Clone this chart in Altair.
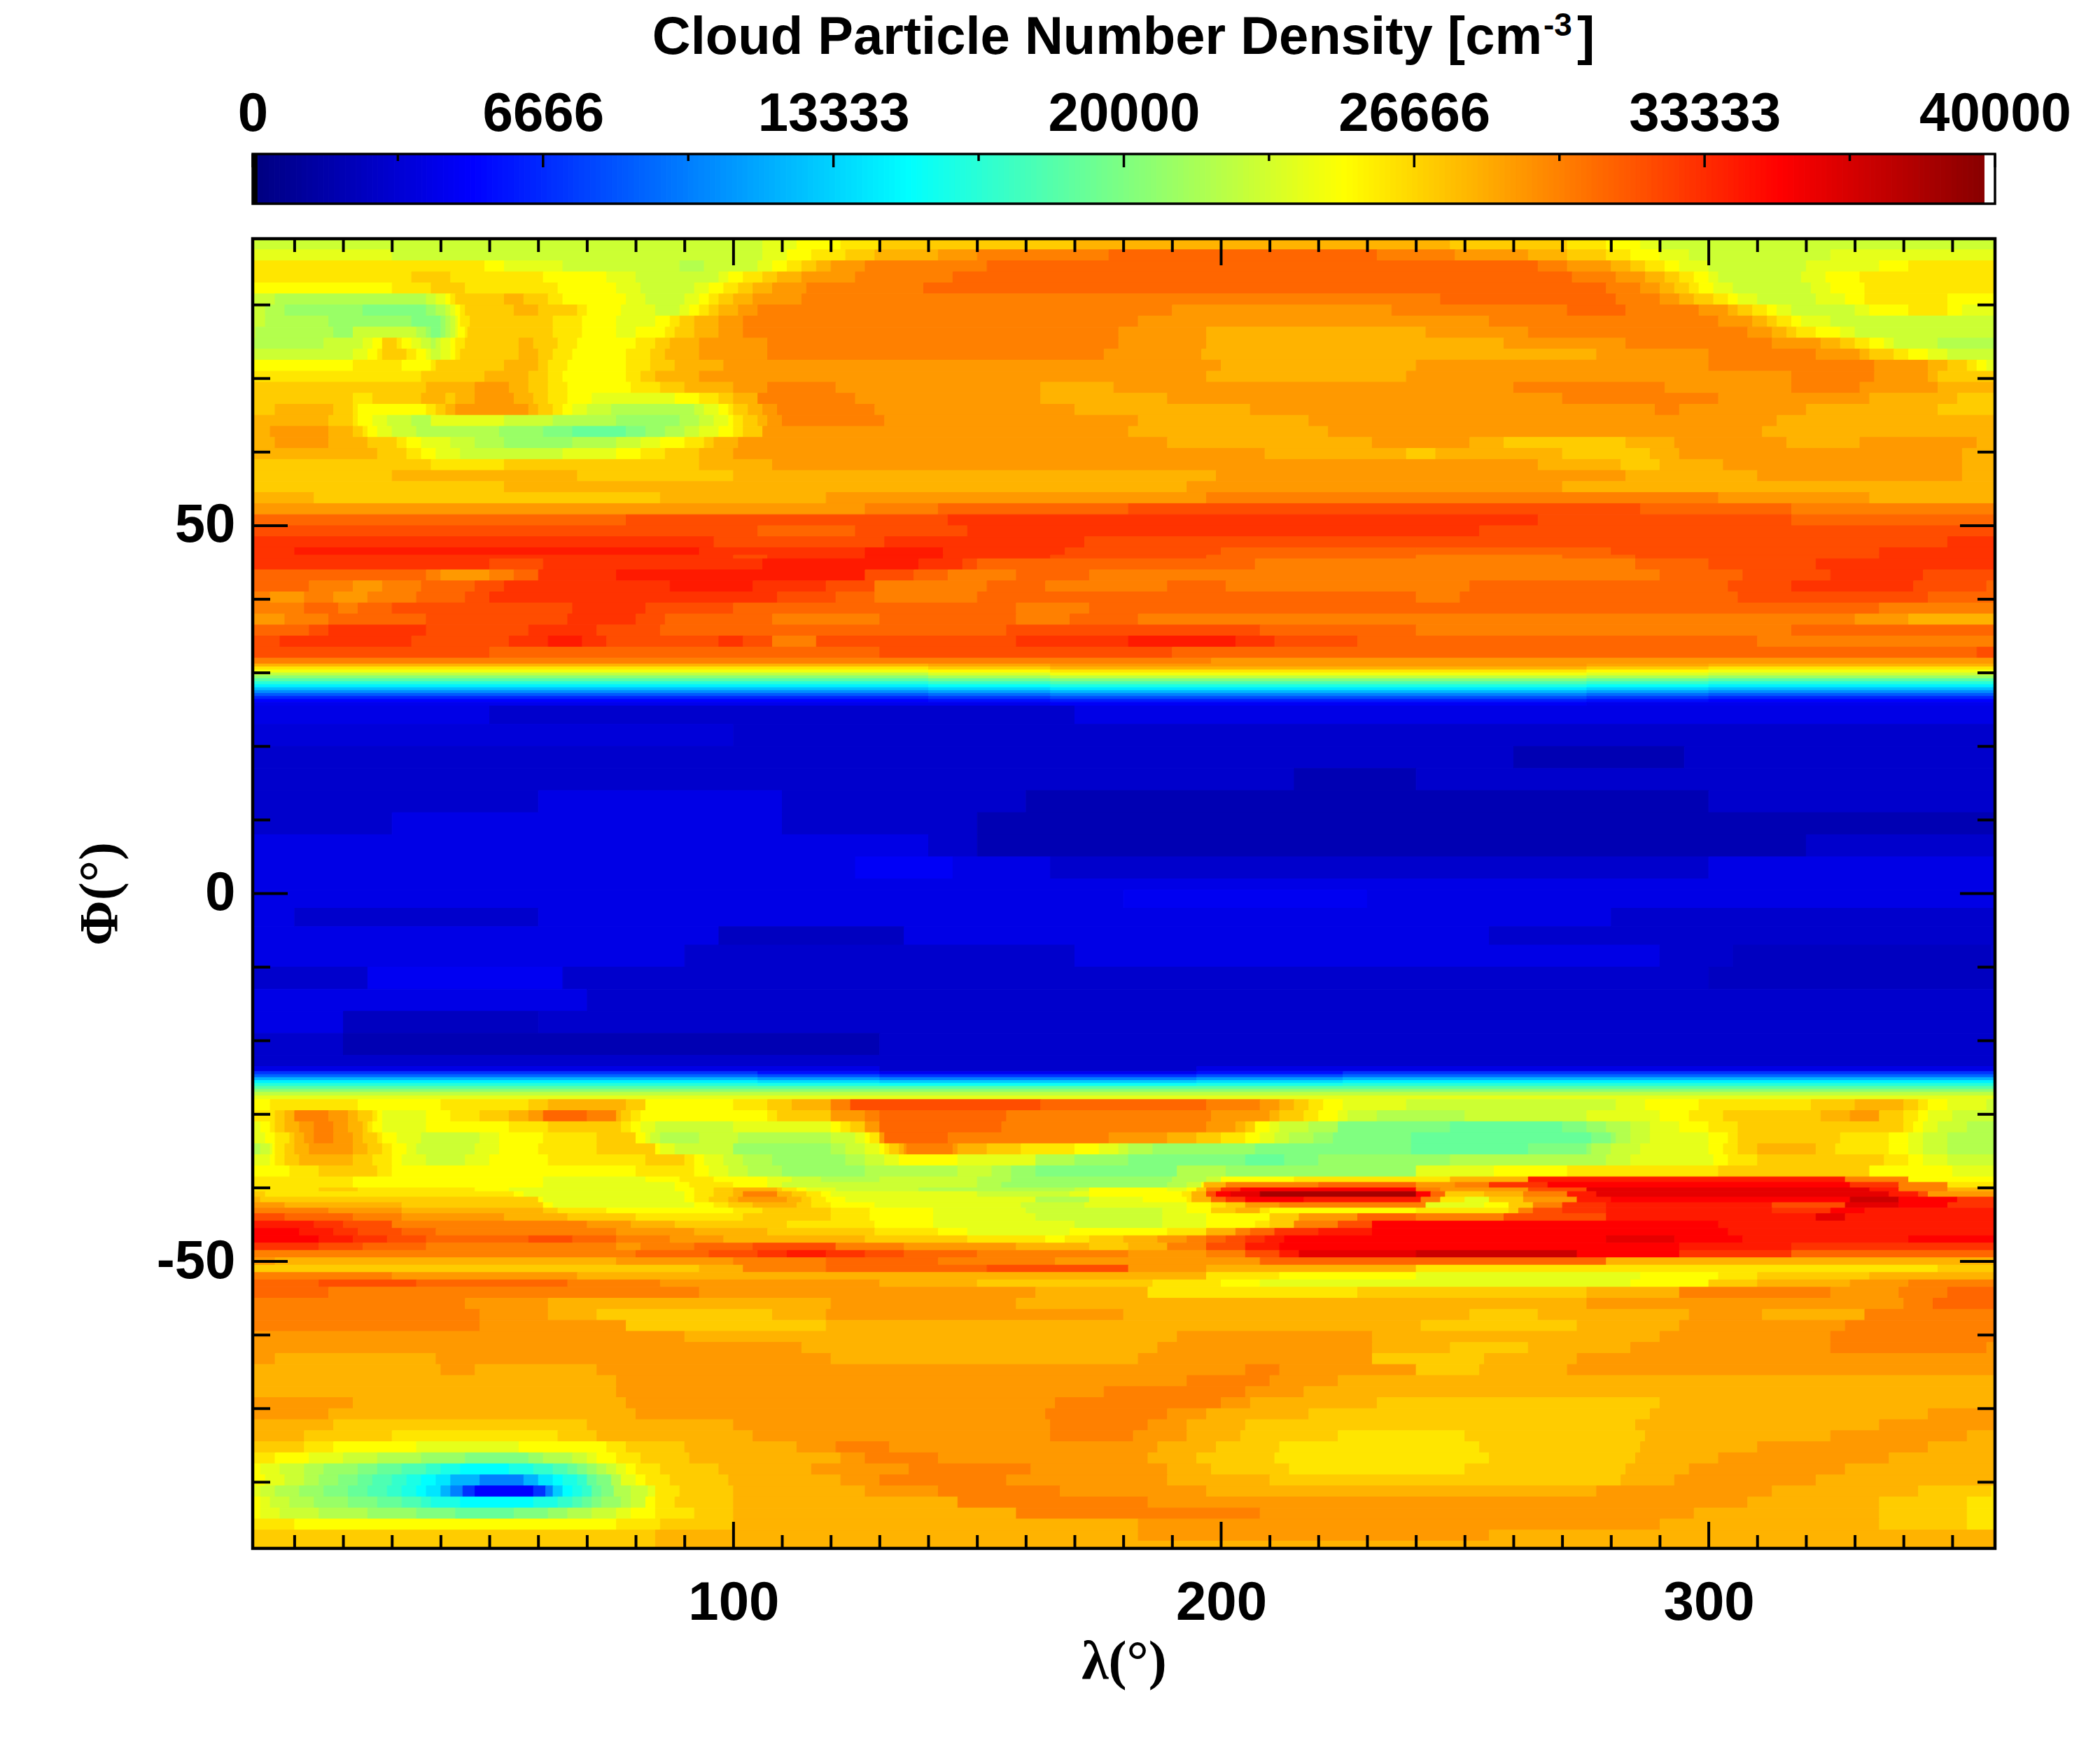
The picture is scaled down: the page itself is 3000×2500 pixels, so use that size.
import altair as alt
import pandas as pd

# Each row: latitude top, latitude bottom, then [value(k cm-3), longitude end, value, longitude end, ...]
north_rows = [
(89,87.5,[23,106,24,113,25,122,26,130,27,170,28,247,27,271,26,279,25,286,24,290,23,360]),
(87.5,86,[24,30,23,106,24,111,25,116,26,123,27,129,28,142,29,150,30,177,31,232,30,248,29,263,28,271,27,279,26,284,25,290,24,296,23,325,24,360]),
(86,84.5,[26,49,25,53,24,65,23,89,22,94,23,105,24,108,25,111,26,114,27,117,28,120,29,127,30,152,31,265,30,271,29,280,28,284,27,287,26,291,25,294,24,300,23,320,24,335,25,341,26,360]),
(84.5,83,[26,34,27,42,26,61,25,74,24,80,23,97,24,99,25,102,26,106,27,109,28,114,29,125,30,145,31,272,30,281,29,287,28,291,27,294,26,297,25,300,24,302,23,319,24,324,25,331,26,360]),
(83,81.5,[25,30,26,38,27,45,26,64,25,76,24,81,23,92,24,95,25,98,26,101,27,104,28,108,29,115,30,139,31,279,30,286,29,290,28,293,27,296,26,298,25,301,24,305,23,321,24,325,25,332,26,360]),
(81.5,80,[23,6,22,37,23,39,24,41,25,42,26,43,27,53,28,57,27,62,26,65,25,78,24,82,23,90,24,93,25,95,26,97,27,100,28,104,29,114,30,245,31,281,30,290,29,294,28,297,27,301,26,304,25,306,24,310,23,322,24,328,25,332,26,349,25,360]),
(80,78.5,[23,4,22,8,21,24,20,37,21,39,22,41,23,42,24,43,25,44,26,45,27,55,28,60,27,68,26,70,25,77,24,84,23,89,24,91,25,93,26,95,27,97,28,101,29,105,30,190,29,235,30,271,31,283,30,298,29,304,28,306,27,309,26,312,25,314,24,317,23,330,24,333,25,341,26,349,25,352,24,360]),
(78.5,77,[23,4,22,17,21,34,20,40,21,41,22,42,23,43,24,43.5,25,44,26,46,27,63,26,69,25,76,24,84,25,87,26,89,27,92,28,97,29,102,30,183,29,255,30,302,29,309,28,312,27,314,26,317,25,319,24,325,23,360]),
(77,75.5,[23,2,22,18,21,22,23,35,22,37,21,38,20,40,21,41,22,42,23,43,24,43.5,25,45,26,45.5,27,63,26,69,25,76,24,80,25,86,26,88,27,92,28,97,29,102,30,179,29,197,28,242,29,263,30,308,29,313,28,316,27,318,26,322,25,327,24,330,23,360]),
(75.5,74,[22,16,23,24,24,26,25,28,27,31,26,32,25,34,24,36,23,38,22,39,23,40,24,42,25,43,26,45,27,56,28,59,27,64,26,68,25,80,26,84,27,87,28,93,29,107,30,179,29,197,28,258,29,283,30,313,29,323,28,327,27,330,26,333,25,336,24,338,23,347,22,360]),
(74,72.5,[23,22,24,25,25,27,26,28,27,33,26,35,25,37,24,38,23,40,24,42,25,43,26,44,27,56,28,60,27,63,26,67,25,78,26,83,27,86,28,93,29,107,30,176,29,196,28,277,29,300,30,322,29,331,28,333,27,338,26,341,25,345,24,349,23,360]),
(72.5,71,[25,22,26,32,25,38,26,39,27,53,28,60,27,62,26,66,25,78,26,83,27,88,28,98,29,200,28,240,29,300,30,334,29,345,28,349,27,353,26,355,25,357,24,360]),
(71,69.5,[26,36,27,49,28,58,27,62,26,65,25,78,26,81,27,84,28,93,29,197,28,238,29,317,30,334,29,345,28,347,27,360]),
(69.5,68,[27,37,28,47,29,54,28,58,27,62,26,66,25,79,26,85,27,90,28,100,29,107,30,121,29,163,28,178,29,260,30,291,29,317,30,331,29,347,28,360]),
(68,66.5,[27,22,26,26,27,36,28,41,27,43,28,47,29,55,28,59,27,62,26,66,25,71,24,88,25,93,26,97,27,100,28,105,30,125,29,163,28,189,29,270,30,302,29,333,28,351,27,360]),
(66.5,65,[27,6,28,18,27,22,26,23,25,37,26,39,27,41,28,43,29,58,28,60,27,63,26,65,25,67,24,70,23,75,22,92,23,94,24,97,25,99,26,100,27,103,28,106,29,109,30,129,29,170,28,206,29,289,30,294,29,320,28,347,27,360]),
(65,63.5,[28,17,27,22,26,23,25,26,24,29,23,34,22,38,24,53,23,63,22,76,21,89,22,93,23,96,24,99,25,100,26,102,27,105,28,107,29,110,30,131,29,183,28,218,29,314,28,360]),
(63.5,62,[28,5,29,17,28,22,27,24,26,25,25,27,24,30,23,35,22,52,21,61,20,67,19,78,20,82,21,86,22,90,23,93,24,97,25,100,26,102,27,106,29,181,28,222,29,311,28,360]),
(62,60.5,[28,6,29,17,28,25,27,31,26,33,25,36,24,42,23,47,22,53,21,67,22,76,23,81,24,85,25,90,26,94,27,96,28,101,29,189,28,231,29,251,28,258,27,283,28,293,29,316,28,331,29,355,28,360]),
(60.5,59,[28,27,27,33,26,36,25,39,24,44,23,65,24,76,25,81,26,86,27,93,28,100,29,209,28,238,27,244,28,270,27,288,28,294,29,352,28,360]),
(59,57.5,[27,38,26,53,27,93,28,108,29,265,28,282,27,290,28,303,29,352,28,360]),
(57.5,56,[27,30,28,68,27,100,28,199,29,283,28,310,29,352,28,360]),
(56,54.5,[27,53,28,193,29,270,28,360]),
(54.5,53,[28,14,27,85,28,119,29,197,30,302,29,333,28,360]),
(53,51.5,[29,127,30,142,31,181,32,286,31,317,30,360]),
(51.5,50,[31,78,32,144,33,265,32,317,31,360]),
(50,48.5,[32,105,31,125,32,148,33,253,32,360]),
(48.5,47,[33,96,32,131,33,172,32,349,33,360]),
(47,46,[33,10,34,93,33,127,34,143,33,168,32,200,31,240,31,280,32,335,33,360]),
(46,45.5,[33,100,32,107,33,127,34,143,33,165,32,197,31,240,30,270,31,285,32,335,33,360]),
(45.5,44,[33,50,32,61,33,106,34,138,33,147,32,150,31,207,30,285,31,300,32,322,33,360]),
(44,42.5,[31,37,30,40,29,50,30,55,31,60,33,76,34,127,32,137,31,144,30,158,31,173,30,290,31,307,32,325,33,344,32,360]),
(42.5,41,[31,13,30,22,29,28,30,36,31,47,32,53,33,87,34,104,33,119,32,129,30,152,31,164,30,189,31,201,30,251,31,304,32,317,33,342,32,357,31,360]),
(41,39.5,[30,5,29,12,30,18,29,25,30,35,31,45,32,50,33,109,32,121,31,129,30,150,31,240,30,249,31,306,32,345,31,360]),
(39.5,38,[30,12,31,19,30,23,31,30,32,67,33,82,32,100,31,158,30,173,31,335,30,360]),
(38,36.5,[29,8,30,17,31,37,32,66,33,80,32,86,31,108,30,130,31,158,30,169,31,183,30,330,29,341,28,360]),
(36.5,35,[31,13,32,17,33,37,32,58,33,72,32,85,31,156,32,208,31,240,30,317,31,360]),
(35,33.5,[32,7,33,34,32,54,33,62,34,69,33,74,32,97,33,102,32,108,30,117,32,158,33,181,34,203,33,211,32,228,31,310,30,360]),
(33.5,32,[32,50,31,130,32,190,31,355,32,360]),
(32,31.2,[30,198,29,360]),
(31.2,30.8,[28,140,28.5,165,29,275,28.5,300,28,360]),
(30.8,30.4,[26,140,27,165,28,275,27,300,26,360]),
(30.4,30,[24.5,140,25.2,165,26,275,25.2,300,24.5,360]),
(30,29.6,[22.5,140,23.5,165,24.5,275,23.7,300,23,360]),
(29.6,29.2,[20.5,140,21.5,165,22.5,275,21.7,300,21,360]),
(29.2,28.8,[18.5,140,19.2,165,20,275,19.2,300,18.5,360]),
(28.8,28.4,[16.5,140,17.2,165,18,275,17.2,300,16.5,360]),
(28.4,28,[14.5,140,15.2,165,16,275,15.2,300,14.5,360]),
(28,27.6,[12.5,140,13.2,165,14,275,13.2,300,12.5,360]),
(27.6,27.2,[10.5,140,11.2,165,12,275,11.2,300,10.5,360]),
(27.2,26.8,[8.5,140,9.2,165,10,275,9.2,300,8.5,360]),
(26.8,26.4,[6.5,140,7.2,165,8,275,7.2,300,6.5,360]),
(26.4,26,[5,140,5.5,165,6,275,5.5,300,5,360]),
(26,25.5,[4.3,165,4.7,275,4.3,360]),
]

equator_rows = [
(25.5,23,[4,50,3,170,4,360]),
(23,20,[3.5,100,3,360]),
(20,17,[3,260,2,295,3,360]),
(17,14,[3,215,2,240,3,360]),
(14,11,[3,60,4,110,3,160,2,300,3,360]),
(11,8,[3,30,4,110,3,150,2,360]),
(8,5,[4,140,3,150,2,320,3,360]),
(5,2,[4,125,4.7,145,4,165,3,300,4,360]),
(2,0.5,[4,360]),
(0.5,-2,[4,180,4.5,230,4,360]),
(-2,-4.5,[4,10,3,60,4,280,3,360]),
(-4.5,-7,[4,97,2.5,135,4,255,3,360]),
(-7,-10,[4,90,3,170,4,290,3,305,2.5,358,3,360]),
(-10,-13,[3,25,4.5,65,3,300,2.5,360]),
(-13,-16,[4,70,3,360]),
(-16,-19,[4,20,2.5,60,3,360]),
(-19,-22,[3,20,2,130,3,360]),
(-22,-23.5,[3,360]),
(-23.5,-24.2,[4,130,3,195,4,360]),
]

south_rows = [
(-24.2,-24.6,[7,105,5.5,130,4.5,195,5.5,225,7,360]),
(-24.6,-25,[9,105,8,130,7,195,8,225,9,360]),
(-25,-25.4,[12,105,11,130,10,195,11,225,12,360]),
(-25.4,-25.8,[14.5,105,13.7,130,13,195,13.7,225,14.5,360]),
(-25.8,-26.2,[16.5,105,16,130,15.5,195,16,225,16.5,360]),
(-26.2,-26.6,[18.5,360]),
(-26.6,-27,[20.5,360]),
(-27,-27.5,[22.5,360]),
(-27.5,-28,[24,360]),
(-28,-29.5,[25,5,26,23,25,40,26,58,27,62,28,78,27,82,25,100,26,107,27,112,28,120,30,124,32,163,31,197,30,208,29,212,28,215,27,218,26,221,25,225,24,238,23,281,24,287,25,298,26,321,27,330,28,340,27,343,26,345,25,349,24,357,23,360]),
(-29.5,-31,[26,6,27,8,28,10,30,17,29,21,28,23,27,26,26,27,25,28,24,37,25,42,26,48,27,54,28,58,29,61,31,70,30,76,28,77,27,79,26,81,25,107,26,109,27,120,29,127,30,130,31,156,30,198,29,210,28,212,27,217,26,220,25,224,24,226,23,232,22,250,23,275,24,290,25,296,26,303,27,323,28,329,29,335,27,340,26,343,25,345,24,350,23,360]),
(-31,-32.5,[24,3,25,5,26,6,27,8,28,11,29,14,30,18,29,21,28,24,27,25,26,26,25,28,24,37,25,54,26,62,27,77,26,79,25,81,24,84,23,100,24,120,25,122,26,124,27,127,29,130,31,155,30,197,29,203,28,205,27,207,25,210,24,212,23,218,22,224,20,247,19,270,20,275,21,279,22,284,23,288,24,294,25,300,26,306,27,340,26,342,25,344,24,347,23,353,22,360]),
(-32.5,-34,[24,4,25,6,26,9,27,10,28,12,29,14,30,18,29,22,28,24,27,27,26,28,25,31,24,36,23,48,24,52,25,61,26,72,27,80,25,82,24,83,23,85,22,93,23,101,22,120,23,125,24,127,25,128,26,130,29,131,31,144,30,177,29,189,28,195,27,200,26,205,25,208,24,211,23,214,22,219,21,223,20,239,19,276,20,280,21,281,22,284,23,288,24,300,25,304,26,306,27,327,26,337,25,341,24,344,23,349,22,360]),
(-34,-35.5,[22,3,23,5,24,5.5,25,6,26,8,27,10,28,13,29,22,28,25,27,28,26,30,25,33,24,35,23,47,24,52,25,60,26,72,27,84,25,85,24,88,23,100,21,120,22,123,23,127,24,130,25,131,26,132,27,134,28,135,29,135.5,30,145,29,146,28,152,27,159,26,170,25,175,24,179,23,181,22,186,21,207,20,239,19,263,20,275,21,276,22,280,23,286,24,300,25,303,26,306,27,310,28,322,27,326,26,337,25,341,24,344,23,349,22,360]),
(-35.5,-37,[24,5,25,6,26,8,27,11,28,22,27,26,26,30,25,32,24,37,23,45,24,50,25,62,26,82,27,90,26,92,25,94,24,98,23,102,22,108,21,123,22,127,23,131,24,134,25,146,24,162,22,170,21,181,20,205,19,213,20,220,21,247,22,279,23,284,24,301,25,304,26,310,27,336,26,341,25,344,24,349,23,360]),
(-37,-38.5,[25,9,26,15,27,27,26,30,25,80,26,92,25,95,24,99,23,103,22,110,21,127,22,146,23,153,22,157,21,162,20,191,22,201,21,240,24,256,25,271,26,302,27,333,25,350,24,360]),
(-38.5,-39.25,[26,22,25,61,24,82,25,89,26,96,25,107,24,112,23,118,22,130,23,150,22,157,21,190,22,197,23,200,25,215,26,247,28,263,34,328,30,341,25,360]),
(-39.25,-40,[26,22,25,61,24,88,25,91,26,100,25,107,24,110,23,150,22,155,21,189,22,193,23,196,25,196.5,28,201,30,220,31,240,29,248,30,255,33,267,35,329,33,339,30,349,26,360]),
(-40,-40.5,[26,15,27,23,26,47,25,54,24,88,25,92,26,96,27,100,28,109,27,110,26,113,25,115,24,121,23,138,22,170,23,173,25,189,24,193,25,195,27,197,30,200,33,204,35,240,30,245,29,263,32,275,36,333,34,339,30,349,28,360]),
(-40.5,-41.25,[27,4,26,55,25,57,24,90,25,92,26,96,27,100,28,102,30,109,28,112,27,115,26,118,25,120,24,150,23,169,24,173,25,192,26,194,28,197,32,199,35,202,36,208,38.5,240,35,243,31,246,27,254,28,262,30,271,34,277,36,337,34,343,32,345,29,360]),
(-41.25,-42,[28,3,27,60,25,61,24,90,25,92,26,95,27,99,28,101,29,111,28,114,27,116,26,119,25,123,24,162,22,173,24,184,25,193,26,194,28,198,31,201,33,205,35,217,34,241,30,245,26,250,24,255,27,262,29,273,34,280,35,329,37,339,35,351,33,360]),
(-42,-42.75,[29,8,28,32,27,61,25,63,24,92,25,96,26,99,27,104,28,113,27,116,26,120,25,129,24,159,23,172,24,193,25,198,26,201,27,205,29,212,30,242,24,254,25,259,27,264,30,270,33,279,34,313,32,328,36,339,35,349,33,360]),
(-42.75,-43.5,[30,17,29,32,28,61,27,64,26,74,25,100,26,106,27,120,26,128,25,141,24,160,23,188,24,193,25,198,27,203,28,208,26,210,25,240,26,259,27,261,30,264,32,270,33,279,34,313,33,325,35,332,34,360]),
(-43.5,-44.5,[32,8,31,22,30,32,29,53,28,66,27,80,26,102,27,120,26,128,25,141,24,162,23,188,24,197,25,210,27,216,29,228,31,240,30,258,32,279,34,322,36,328,34,360]),
(-44.5,-45.5,[34,14,33,20,32,30,30,70,29,79,28,88,27,111,26,129,25,141,24,170,23,188,24,197,25,207,26,210,27,215,30,224,32,231,35,302,34,360]),
(-45.5,-46.5,[35,11,34,18,33,23,32,32,31,39,30,76,29,92,28,107,27,129,26,142,25,148,24,169,25,189,26,197,28,203,30,206,31,211,33,220,34,231,35,304,34,360]),
(-46.5,-47.5,[35,15,34,22,33,29,32,37,31,58,32,67,31,76,30,87,29,98,28,127,27,148,26,164,25,168,26,173,27,180,28,187,29,193,30,197,31,201,32,205,33,209,34,213,35,279,36,293,35,307,34,341,35,360]),
(-47.5,-48.5,[33,15,32,24,31,37,30,76,29,81,30,92,31,104,32,121,30,135,29,158,28,173,27,181,28,189,30,197,32,205,34,212,35,294,34,317,33,360]),
(-48.5,-49.5,[30,80,31,95,32,105,33,111,34,119,33,127,32,135,31,150,30,181,29,197,30,205,32,212,34,216,36,240,37,273,35,294,33,317,31,360]),
(-49.5,-50.5,[29,6,28,76,29,100,30,119,31,142,30,166,29,208,31,279,28,360]),
(-50.5,-51.5,[27,93,28,102,30,119,31,152,32,181,29,197,28,240,26,347,27,360]),
(-51.5,-52.5,[30,30,29,68,28,197,26,212,25,240,24,286,25,302,26,310,27,333,28,360]),
(-52.5,-53.5,[31,15,32,35,31,66,30,85,29,130,28,150,27,186,26,200,25,208,24,284,25,300,27,310,28,329,29,341,30,360]),
(-53.5,-55,[31,17,30,93,29,162,28,185,26,228,27,275,28,294,30,325,29,339,30,349,31,360]),
(-55,-56.5,[30,45,29,62,28,120,29,158,28,275,29,340,30,346,31,360]),
(-56.5,-58,[30,48,29,62,28,72,27,108,28,119,29,180,28,251,27,265,28,296,29,311,28,332,30,360]),
(-58,-59.5,[30,48,29,78,27,119,28,241,27,273,28,294,29,328,30,360]),
(-59.5,-61,[29,90,28,191,29,231,28,290,29,325,30,360]),
(-61,-62.5,[29,114,28,187,29,231,28,247,27,263,28,284,29,325,30,357,29,360]),
(-62.5,-64,[29,6,28,39,29,120,28,183,29,231,27,254,28,273,29,360]),
(-64,-65.5,[28,40,29,47,28,72,29,205,30,212,29,240,27,253,28,271,29,360]),
(-65.5,-67,[28,76,29,193,30,210,29,224,28,360]),
(-67,-68.5,[28,76,29,176,30,205,29,217,28,360]),
(-68.5,-70,[29,22,28,78,29,166,30,200,29,206,28,232,27,290,28,360]),
(-70,-71.5,[29,17,28,80,29,164,30,189,29,197,28,218,27,288,28,345,29,360]),
(-71.5,-73,[28,18,27,70,28,100,29,165,30,185,29,193,28,205,27,285,28,335,29,360]),
(-73,-74.5,[28,12,27,30,26,64,27,72,28,104,29,165,30,182,29,193,28,204,27,224,26,250,27,287,28,325,29,353,28,360]),
(-74.5,-76,[27,12,26,18,25,35,24,56,25,74,26,78,27,90,28,113,29,121,30,132,29,187,28,199,27,212,26,253,27,286,28,310,29,345,28,360]),
(-76,-77.5,[26,6,25,13,24,20,23,27,22,36,21,45,20,58,21,61,22,67,23,70,24,72,25,76,26,81,27,91,28,122,29,127,30,142,29,185,28,195,27,211,26,255,27,285,28,302,29,337,28,360]),
(-77.5,-79,[25,3,24,7,23,12,22,16,21,23,20,27,19,32,18,37,17,40,16,44,15,54,16,59,17,63,18,66,19,68,20,70,21,72,22,74,23,76,24,78,25,80,26,85,27,97,28,116,29,136,30,161,29,189,28,198,27,214,26,250,27,283,28,296,29,328,28,360]),
(-79,-80.5,[25,4,24,8,23,12,22,15,21,19,20,23,19,26,18,30,17,33,16,36,15,39,14,42,12,48,10,57,12,60,14,63,15,65,16,68,17,70,19,72,20,75,22,77,24,80,25,82,26,87,27,99,28,122,29,130,30,156,29,189,28,210,27,282,28,293,29,322,28,360]),
(-80.5,-82,[24,3,23,6,22,11,21,16,20,21,19,25,18,29,17,32,16,35,15,37,14,40,12,42,10,44.5,7,47,5,59,7,61.5,10,63,13,65,15,67,16,69,17,71,19,73,20,75.5,22,79,23,82.5,24,84,26,89,27,100,28,127,29,142,30,167,29,197,28,277,29,313,28,343,27,358,26,360]),
(-82,-83.5,[25,3,24,5,23,9,22,14,21,21,20,27,19,32,18,36,17,38,16,44,15,59,16,64,17,67,18,69,19,71,20,73,21,77,22,79,23,82,25,84,26,88,27,100,28,146,30,185,29,308,28,335,27,353,26,360]),
(-83.5,-85,[25,3,24,7,23,15,22,25,21,35,20,43,19,55,20,62,21,66,22,71,23,76,24,79,25,84,26,92,27,100,28,158,30,208,29,297,28,335,27,353,26,360]),
(-85,-86.5,[26,10,25,76,26,85,27,100,28,183,29,290,28,335,27,353,26,360]),
(-86.5,-88,[27,84,28,183,29,255,28,360]),
(-88,-89,[27,84,28,360]),
]

x_major = [100, 200, 300]
x_minor = [10, 20, 30, 40, 50, 60, 70, 80, 90, 110, 120, 130, 140, 150, 160, 170, 180, 190,
           210, 220, 230, 240, 250, 260, 270, 280, 290, 310, 320, 330, 340, 350]
y_major = [-50, 0, 50]
y_minor = [-80, -70, -60, -40, -30, -20, -10, 10, 20, 30, 40, 60, 70, 80]
bar_major = [0, 6666, 13333, 20000, 26666, 33333, 40000]
bar_minor = [3333, 10000, 16666, 23333, 30000, 36666]

LON0, LON1 = 1.4, 358.7
LAT0, LAT1 = -89.0, 89.0
W, H = 2489, 1871
BAR_H = 71
FONT = "Liberation Sans"
SERIF = "Liberation Serif"
LABEL = 78

recs = []
for top, bot, runs in north_rows + equator_rows + south_rows:
    start = LON0
    for v, end in zip(runs[0::2], runs[1::2]):
        end = min(end, LON1)
        if end > start:
            recs.append(dict(lon0=start, lon1=end, top=top, bot=bot, v=v))
            start = end
field = pd.DataFrame(recs)

jet = alt.Scale(domain=[0, 5, 15, 25, 35, 40],
                range=["#000080", "#0000ff", "#00ffff", "#ffff00", "#ff0000", "#800000"],
                interpolate="rgb")
xs = alt.Scale(domain=[LON0, LON1], nice=False, zero=False)
ys = alt.Scale(domain=[LAT0, LAT1], nice=False, zero=False)
bs = alt.Scale(domain=[0, 40000], nice=False, zero=False)
one = pd.DataFrame({"a": [1]})

text_style = dict(title=None, domain=False, grid=False, ticks=False, labelFont=FONT, labelFontWeight="bold",
                  labelFontSize=LABEL, labelColor="black", labelFlush=False, labelOverlap=False,
                  labelBound=False, labelLimit=1000, labelExpr="'' + datum.value")
x_axis = alt.Axis(values=x_major, labelPadding=39, **text_style)
y_axis = alt.Axis(values=y_major, labelPadding=25, **text_style)
bar_axis = alt.Axis(orient="top", values=bar_major, labelPadding=18, **text_style)

cells = alt.Chart(field).mark_rect(strokeWidth=1, clip=True).encode(
    x=alt.X("lon0:Q", scale=xs, axis=x_axis),
    x2="lon1:Q",
    y=alt.Y("top:Q", scale=ys, axis=y_axis),
    y2="bot:Q",
    color=alt.Color("v:Q", scale=jet, legend=None),
    stroke=alt.Stroke("v:Q", scale=jet, legend=None),
)

def xticks(vals, y0, y1):
    return alt.Chart(pd.DataFrame({"t": vals})).mark_rule(color="black", strokeWidth=4).encode(
        x=alt.X("t:Q", scale=xs, axis=x_axis), y=alt.value(y0), y2=alt.value(y1))

def yticks(vals, x0, x1):
    return alt.Chart(pd.DataFrame({"t": vals})).mark_rule(color="black", strokeWidth=4).encode(
        y=alt.Y("t:Q", scale=ys, axis=y_axis), x=alt.value(x0), x2=alt.value(x1))

border = alt.Chart(one).mark_rect(fillOpacity=0, stroke="black", strokeWidth=4.5).encode(
    x=alt.value(0), x2=alt.value(W), y=alt.value(0), y2=alt.value(H))

xlab = alt.Chart(one).mark_text(text="λ(°)", font=SERIF, fontWeight="bold", fontSize=78, color="black",
                                align="center", baseline="middle").encode(x=alt.value(1245), y=alt.value(2034))
ylab = alt.Chart(one).mark_text(text="Φ(°)", font=SERIF, fontWeight="bold", fontSize=78, color="black",
                                align="center", baseline="middle", angle=270).encode(x=alt.value(-217), y=alt.value(936))

main = alt.layer(
    cells,
    xticks(x_minor, 0, 19), xticks(x_major, 0, 38),
    xticks(x_minor, H - 19, H), xticks(x_major, H - 38, H),
    yticks(y_minor, 0, 25), yticks(y_major, 0, 50),
    yticks(y_minor, W - 25, W), yticks(y_major, W - 50, W),
    border, xlab, ylab,
).properties(width=W, height=H)

# colour bar
bar_levels = [i * 0.125 for i in range(0, 318)]
bar_df = pd.DataFrame({"k": bar_levels})
bar_df["x0"] = bar_df.k * 1000
bar_df["x1"] = (bar_df.k + 0.125) * 1000
bar_cells = alt.Chart(bar_df).mark_rect(strokeWidth=1).encode(
    x=alt.X("x0:Q", scale=bs, axis=bar_axis),
    x2="x1:Q",
    y=alt.value(0), y2=alt.value(BAR_H),
    color=alt.Color("k:Q", scale=jet, legend=None),
    stroke=alt.Stroke("k:Q", scale=jet, legend=None),
)
bar_black = alt.Chart(pd.DataFrame({"x0": [0], "x1": [110]})).mark_rect(color="black").encode(
    x=alt.X("x0:Q", scale=bs, axis=bar_axis), x2="x1:Q", y=alt.value(0), y2=alt.value(BAR_H))

def bticks(vals, length):
    return alt.Chart(pd.DataFrame({"t": vals})).mark_rule(color="black", strokeWidth=3.5).encode(
        x=alt.X("t:Q", scale=bs, axis=bar_axis), y=alt.value(0), y2=alt.value(length))

bar_border = alt.Chart(one).mark_rect(fillOpacity=0, stroke="black", strokeWidth=3.5).encode(
    x=alt.value(0), x2=alt.value(W), y=alt.value(0), y2=alt.value(BAR_H))

def title_text(txt, x, y, size, align):
    return alt.Chart(one).mark_text(text=txt, font=FONT, fontWeight="bold", fontSize=size, color="black",
                                    align=align, baseline="alphabetic").encode(x=alt.value(x), y=alt.value(y))

bar = alt.layer(
    bar_cells, bar_black, bticks(bar_minor, 10), bticks(bar_major, 19), bar_border,
    title_text("Cloud Particle Number Density [cm", 1842, -143, 76, "right"),
    title_text("-3", 1844, -169, 46, "left"),
    title_text("]", 1892, -143, 76, "left"),
).properties(width=W, height=BAR_H)

chart = alt.vconcat(bar, main, spacing=45).properties(
    padding={"left": 97, "top": 6, "right": 5, "bottom": 10}, background="white"
).configure_view(stroke=None)

chart.save("out.html", embed_options={"renderer": "svg", "actions": False})
